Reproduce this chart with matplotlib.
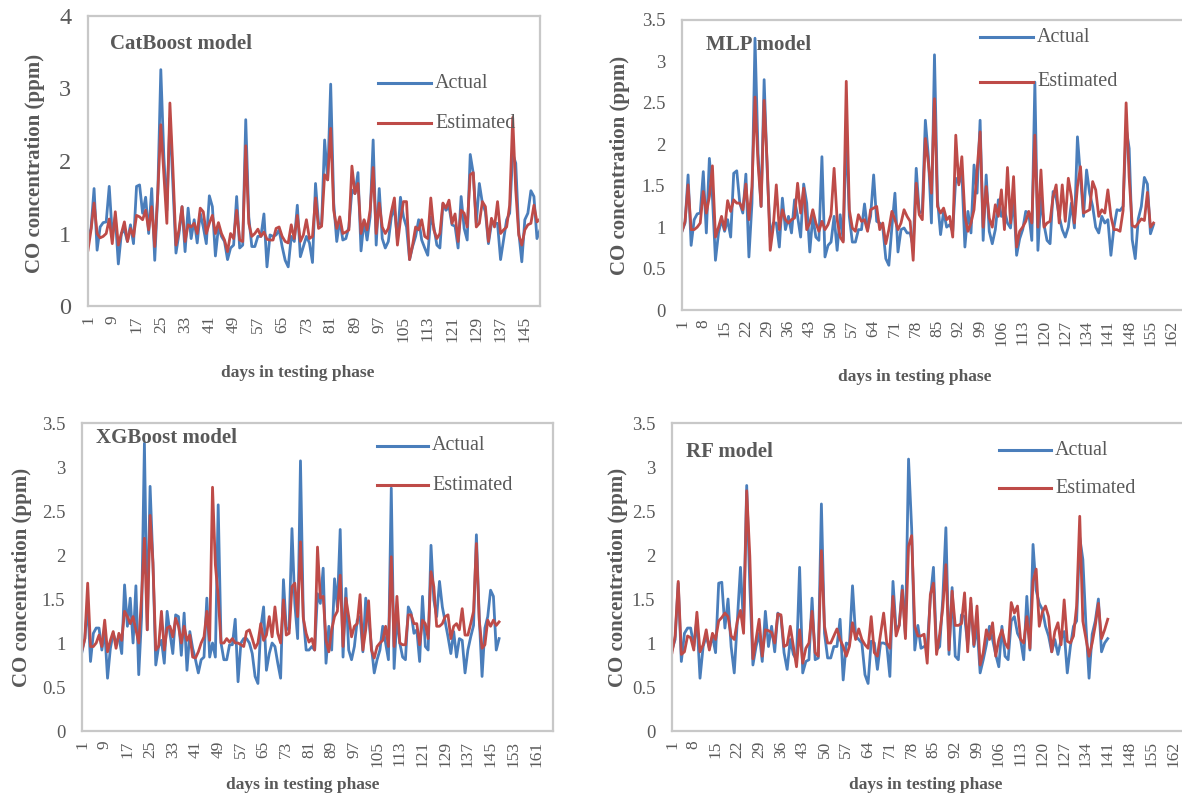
"""
Actual vs estimated CO concentration for four models (CatBoost, MLP, XGBoost, RF).
"""
import matplotlib
matplotlib.use('Agg')
import matplotlib.pyplot as plt
from matplotlib.lines import Line2D

plt.rcParams['font.family'] = ['Liberation Serif', 'DejaVu Serif']

#---------------------------------------------------------------------------------------------------
# Data
#---------------------------------------------------------------------------------------------------

cat_actual = [
    0.93, 1.07, 1.62, 0.77, 1.09, 1.15, 1.16, 1.65, 0.98, 1.23,
    0.58, 1.0, 1.05, 0.89, 1.12, 0.86, 1.65, 1.67, 1.28, 1.5,
    1.0, 1.62, 0.63, 1.55, 3.26, 2.06, 1.32, 2.59, 1.65, 0.73,
    1.0, 1.37, 0.75, 1.35, 0.93, 1.19, 0.87, 1.28, 1.09, 0.86,
    1.52, 1.37, 0.69, 1.09, 0.96, 0.89, 0.64, 0.8, 0.84, 1.51,
    0.8, 0.84, 2.57, 1.23, 0.82, 0.82, 0.96, 0.96, 1.27, 0.54,
    0.98, 0.96, 0.98, 1.05, 0.82, 0.63, 0.54, 0.96, 0.89, 1.39,
    0.68, 0.82, 0.96, 0.87, 0.6, 1.69, 1.14, 1.12, 2.29, 1.74,
    3.06, 1.42, 0.89, 1.19, 0.91, 0.93, 1.09, 1.6, 1.55, 1.84,
    0.76, 1.18, 0.91, 1.23, 2.29, 0.84, 1.62, 0.93, 0.8, 0.89,
    1.23, 1.35, 0.91, 1.5, 1.23, 1.09, 0.64, 0.82, 0.96, 1.19,
    0.91, 0.8, 0.7, 1.23, 1.09, 0.84, 0.8, 1.41, 1.32, 1.37,
    1.12, 1.1, 0.8, 1.51, 1.07, 0.91, 2.09, 1.83, 1.14, 1.69,
    1.42, 1.3, 0.86, 1.14, 1.14, 1.14, 0.64, 0.91, 1.19, 1.28,
    2.1, 1.97, 1.02, 0.61, 1.19, 1.28, 1.59, 1.51, 0.93, 1.05,
]
cat_estimated = [
    0.77, 1.05, 1.42, 1.0, 0.94, 0.96, 1.0, 1.2, 0.86, 1.3,
    0.84, 1.0, 1.16, 0.89, 1.07, 0.96, 1.25, 1.23, 1.19, 1.32,
    1.05, 1.37, 0.82, 1.55, 2.5, 1.83, 1.14, 2.8, 1.88, 0.84,
    1.05, 1.37, 0.89, 1.12, 1.09, 1.14, 1.0, 1.35, 1.3, 1.0,
    1.14, 1.25, 1.0, 1.15, 1.0, 0.91, 0.75, 1.0, 0.93, 1.32,
    0.91, 0.89, 2.21, 1.14, 0.96, 1.0, 1.06, 0.96, 1.02, 0.92,
    0.91, 0.91, 1.07, 1.09, 0.96, 0.89, 0.87, 1.12, 0.93, 1.25,
    0.89, 0.98, 1.19, 0.93, 0.96, 1.49, 1.07, 1.1, 1.81, 1.74,
    2.45, 1.32, 1.07, 1.23, 1.0, 1.02, 1.05, 1.93, 1.55, 1.69,
    1.0, 1.19, 1.05, 1.32, 1.91, 1.0, 1.42, 1.09, 1.0, 1.07,
    1.3, 1.49, 0.84, 1.19, 1.44, 1.44, 0.64, 0.84, 1.09, 1.05,
    1.19, 0.96, 0.93, 1.49, 1.05, 0.93, 1.0, 1.42, 1.35, 1.46,
    1.14, 1.27, 0.89, 1.32, 1.28, 1.09, 1.81, 1.84, 1.09, 1.14,
    1.44, 1.37, 0.89, 1.21, 1.09, 1.44, 1.0, 1.05, 1.09, 1.39,
    2.6, 1.6, 0.98, 0.84, 1.05, 1.12, 1.14, 1.39, 1.16, 1.2,
]

mlp_actual = [
    0.95, 1.05, 1.63, 0.78, 1.09, 1.16, 1.17, 1.67, 0.93, 1.83,
    1.37, 0.6, 0.93, 1.09, 0.95, 1.09, 0.88, 1.65, 1.68, 1.29,
    1.17, 1.64, 0.64, 1.29, 3.28, 1.89, 1.25, 2.78, 1.69, 0.88,
    1.05, 1.05, 0.76, 1.35, 0.97, 1.13, 0.93, 1.33, 1.13, 0.88,
    1.52, 1.29, 0.7, 1.13, 0.88, 0.84, 1.85, 0.64, 0.78, 0.82,
    1.13, 0.72, 1.15, 0.84, 2.17, 1.13, 0.82, 0.82, 0.97, 0.97,
    1.28, 0.97, 1.13, 1.63, 1.07, 1.05, 1.0, 0.62, 0.54, 1.0,
    1.41, 0.7, 0.97, 0.99, 0.93, 0.93, 0.76, 1.71, 1.17, 1.19,
    2.29, 1.85, 1.05, 3.08, 1.33, 0.91, 1.19, 1.0, 1.03, 0.95,
    1.59, 1.53, 1.65, 0.76, 1.19, 0.93, 1.75, 1.41, 2.29, 0.84,
    1.63, 0.95, 0.8, 0.97, 1.33, 1.13, 1.21, 1.05, 0.99, 1.35,
    0.66, 0.86, 0.97, 1.19, 1.17, 0.84, 2.75, 0.72, 1.35, 1.03,
    0.84, 0.8, 1.43, 1.35, 1.13, 0.97, 0.88, 1.0, 1.29, 0.99,
    2.09, 1.61, 1.13, 1.69, 1.41, 1.25, 1.0, 0.93, 1.13, 1.05,
    1.09, 0.66, 1.0, 1.21, 1.2, 1.25, 2.2, 1.95, 0.85, 0.62,
    1.1, 1.25, 1.6, 1.52, 0.92, 1.03,
]
mlp_estimated = [
    0.95, 1.07, 1.51, 0.97, 0.97, 1.0, 1.05, 1.43, 1.17, 1.37,
    1.74, 0.88, 1.0, 1.13, 0.97, 1.32, 1.19, 1.33, 1.29, 1.29,
    1.21, 1.52, 1.09, 1.49, 2.57, 1.77, 1.25, 2.53, 1.77, 0.72,
    1.0, 1.51, 0.97, 1.21, 1.09, 1.05, 1.09, 1.11, 1.53, 1.17,
    1.47, 0.97, 1.05, 1.21, 1.05, 0.95, 1.07, 0.97, 1.03, 1.15,
    1.71, 1.09, 0.88, 0.82, 2.76, 1.21, 0.99, 0.95, 1.15, 1.07,
    1.09, 0.95, 1.21, 1.23, 1.25, 0.97, 1.05, 0.8, 0.97, 1.19,
    1.09, 0.97, 1.05, 1.21, 1.13, 1.07, 0.6, 1.53, 1.15, 1.09,
    2.07, 1.77, 1.41, 2.55, 1.25, 1.17, 1.23, 1.09, 1.13, 0.88,
    2.11, 1.51, 1.85, 1.13, 0.95, 1.05, 1.21, 1.69, 2.15, 1.0,
    1.49, 1.11, 1.0, 1.27, 1.13, 1.45, 0.97, 1.72, 1.05, 1.61,
    0.76, 0.95, 1.0, 1.07, 1.19, 1.05, 2.11, 1.0, 1.69, 1.0,
    1.05, 1.07, 1.37, 1.51, 1.05, 1.51, 1.07, 1.59, 1.37, 1.05,
    1.49, 1.73, 1.17, 1.19, 1.21, 1.55, 1.45, 1.13, 1.21, 1.17,
    1.45, 1.13, 0.97, 0.97, 0.95, 1.2, 2.5, 1.6, 1.02, 1.0,
    1.05, 1.1, 1.08, 1.42, 1.0, 1.05,
]

xgb_actual = [
    0.9, 1.05, 1.45, 0.79, 1.11, 1.17, 1.17, 0.92, 1.15, 0.6,
    0.94, 1.11, 1.0, 1.07, 0.88, 1.66, 1.19, 1.51, 1.0, 1.65,
    0.64, 1.3, 3.27, 1.15, 2.78, 1.91, 0.75, 0.96, 1.03, 0.77,
    1.36, 1.11, 0.88, 1.32, 1.3, 0.86, 1.34, 0.69, 1.13, 0.94,
    0.81, 0.66, 0.81, 0.84, 1.51, 0.84, 1.0, 0.84, 2.57, 1.0,
    0.81, 0.81, 0.98, 0.98, 1.27, 0.56, 1.0, 1.05, 1.05, 1.0,
    0.88, 0.62, 0.54, 1.17, 1.41, 0.69, 0.88, 1.0, 0.96, 0.77,
    0.6, 1.72, 1.15, 1.17, 2.3, 1.45, 1.05, 3.07, 1.3, 0.92,
    0.92, 0.96, 0.92, 1.56, 1.45, 1.85, 0.77, 1.19, 0.92, 1.73,
    1.41, 2.29, 0.84, 1.62, 0.92, 0.81, 0.96, 1.26, 1.3, 0.9,
    1.51, 1.3, 0.96, 0.66, 0.81, 0.92, 1.19, 1.0, 0.81, 2.76,
    0.71, 1.3, 1.0, 0.84, 0.81, 1.41, 1.34, 1.11, 1.15, 0.79,
    1.53, 0.96, 0.92, 2.11, 1.49, 1.3, 1.7, 1.41, 1.24, 1.07,
    0.88, 1.13, 0.84, 1.05, 1.03, 0.66, 0.92, 1.07, 1.2, 2.23,
    1.3, 0.62, 1.17, 1.3, 1.6, 1.53, 0.92, 1.05,
]
xgb_estimated = [
    0.92, 1.05, 1.68, 0.96, 0.96, 1.0, 1.09, 0.96, 1.26, 0.9,
    1.03, 1.13, 0.94, 1.11, 1.03, 1.36, 1.3, 1.22, 1.3, 1.15,
    1.0, 1.53, 2.19, 1.15, 2.45, 1.91, 0.92, 0.96, 1.36, 0.92,
    1.17, 1.19, 1.07, 1.28, 1.19, 1.0, 1.19, 1.03, 1.09, 0.84,
    0.83, 0.9, 1.0, 1.07, 1.36, 1.03, 2.77, 1.89, 1.53, 1.0,
    1.0, 1.05, 1.01, 1.05, 1.0, 1.0, 0.98, 0.96, 1.13, 1.15,
    1.05, 0.94, 1.0, 1.22, 1.03, 1.09, 1.3, 1.07, 1.41, 1.11,
    1.0, 1.49, 1.09, 1.11, 1.64, 1.68, 1.3, 2.15, 1.28, 1.11,
    1.01, 1.05, 0.92, 2.09, 1.51, 1.53, 1.03, 0.9, 1.15, 1.3,
    1.36, 1.77, 0.96, 1.51, 1.3, 1.07, 1.19, 1.22, 1.55, 0.92,
    1.15, 1.48, 0.92, 0.83, 0.96, 1.0, 1.03, 1.19, 0.96, 1.98,
    0.96, 1.53, 1.0, 0.98, 0.98, 1.32, 1.32, 1.22, 1.22, 0.98,
    1.26, 1.22, 1.05, 1.81, 1.64, 1.19, 1.19, 1.22, 1.3, 1.32,
    1.05, 1.19, 1.22, 1.15, 1.39, 1.09, 1.09, 1.22, 1.36, 2.13,
    1.26, 0.94, 0.98, 1.26, 1.19, 1.26, 1.2, 1.24,
]

rf_actual = [
    0.92, 1.04, 1.68, 0.79, 1.11, 1.17, 1.17, 0.96, 1.27, 0.6,
    0.96, 1.08, 0.94, 1.08, 0.89, 1.68, 1.69, 1.17, 1.5, 0.96,
    0.66, 1.27, 1.86, 1.19, 2.79, 1.65, 0.75, 0.96, 1.11, 0.79,
    1.36, 0.96, 1.19, 0.9, 1.34, 1.3, 0.89, 0.7, 1.04, 0.87,
    0.81, 1.86, 0.66, 0.79, 0.81, 1.51, 0.81, 0.83, 2.58, 1.11,
    0.83, 0.83, 0.96, 0.96, 1.27, 0.58, 1.0, 0.98, 1.65, 1.08,
    1.04, 1.0, 0.64, 0.54, 1.02, 1.0, 0.7, 1.0, 1.0, 0.98,
    0.62, 1.7, 1.15, 1.2, 1.65, 1.08, 3.09, 2.3, 0.92, 1.2,
    0.94, 0.96, 0.96, 1.5, 1.86, 0.92, 0.96, 1.5, 2.31, 0.87,
    1.63, 0.85, 0.81, 1.32, 1.3, 0.98, 1.45, 0.96, 1.2, 0.66,
    0.81, 0.98, 1.19, 1.04, 0.87, 0.73, 1.19, 0.85, 0.81, 1.25,
    1.3, 1.11, 1.04, 0.81, 1.53, 0.92, 2.12, 1.6, 1.45, 1.38,
    1.19, 1.08, 0.9, 1.04, 0.87, 1.04, 1.13, 0.66, 0.96, 1.19,
    1.25, 2.2, 1.95, 1.2, 0.6, 1.1, 1.25, 1.5, 0.9, 1.0,
    1.05,
]
rf_estimated = [
    0.89, 1.08, 1.7, 0.87, 0.9, 1.08, 1.06, 0.92, 1.35, 0.9,
    0.98, 1.15, 0.92, 1.11, 1.04, 1.25, 1.29, 1.34, 1.3, 1.08,
    1.04, 1.25, 1.37, 1.11, 2.73, 1.99, 0.82, 1.04, 1.27, 0.85,
    1.15, 1.14, 1.12, 1.0, 1.33, 1.32, 0.96, 0.98, 1.19, 0.96,
    0.73, 1.15, 0.77, 0.94, 1.0, 1.36, 0.89, 0.85, 2.05, 1.19,
    1.0, 1.0, 1.08, 1.16, 1.04, 0.96, 0.85, 0.96, 1.23, 1.04,
    1.16, 1.04, 0.98, 0.94, 1.3, 0.89, 0.85, 1.1, 1.34, 1.0,
    0.94, 1.53, 1.08, 1.2, 1.6, 1.05, 2.1, 2.22, 1.19, 1.08,
    1.08, 1.1, 0.77, 1.55, 1.68, 0.87, 1.1, 1.4, 1.89, 0.92,
    1.59, 1.2, 1.2, 1.22, 1.57, 0.9, 1.51, 0.98, 1.42, 0.75,
    0.89, 1.15, 1.04, 1.23, 0.85, 1.04, 1.15, 1.0, 0.94, 1.46,
    1.34, 1.42, 1.04, 1.0, 1.3, 0.94, 1.7, 1.84, 1.19, 1.35,
    1.42, 1.3, 0.9, 1.13, 1.23, 0.98, 1.49, 1.02, 1.0, 1.08,
    1.42, 2.44, 1.25, 1.05, 0.85, 1.0, 1.2, 1.45, 1.05, 1.15,
    1.27,
]

#---------------------------------------------------------------------------------------------------
# Style
#---------------------------------------------------------------------------------------------------

W, H = 1182, 801
BLUE = '#4a7ebb'
RED = '#be4b48'
GRAY = '#595959'
FRAME = '#c8c8c8'


# pixel box (left, top, right, bottom) -> figure fraction rect
def px_rect(l, t, r, b):
    return [l / W, 1 - b / H, (r - l) / W, (b - t) / H]


def fig_xy(x, y):
    return x / W, 1 - y / H


# Draw one panel
def draw_panel(fig, box, actual, estimated, xmax, xticks, ymax, ystep, ytick_size,
               title, title_xy, legend_x, legend_y, xlabel_xy, ylabel_xy):
    ax = fig.add_axes(px_rect(*box))
    days = list(range(1, len(actual) + 1))
    ax.plot(days, actual, color=BLUE, lw=2.0, solid_joinstyle='round')
    ax.plot(days, estimated, color=RED, lw=2.0, solid_joinstyle='round')

    ax.set_xlim(1, xmax)
    ax.set_ylim(0, ymax)
    ax.set_xticks(xticks)
    ax.set_xticklabels([str(t) for t in xticks], rotation=90, fontsize=12.5, color=GRAY)
    yt = [i * ystep for i in range(int(round(ymax / ystep)) + 1)]
    ax.set_yticks(yt)
    ax.set_yticklabels(['%g' % v for v in yt], fontsize=ytick_size, color=GRAY)
    ax.tick_params(axis='both', length=0)
    ax.tick_params(axis='x', pad=7)
    ax.tick_params(axis='y', pad=12)
    for s in ax.spines.values():
        s.set_color(FRAME)
        s.set_linewidth(1.6)

    # model name
    fig.text(*fig_xy(*title_xy), title, fontsize=15, fontweight='bold', color=GRAY,
             ha='left', va='center')

    # legend, drawn by hand to sit where the original one sits
    for (label, color), y in zip([('Actual', BLUE), ('Estimated', RED)], legend_y):
        x0, y0 = fig_xy(legend_x[0], y)
        x1, _ = fig_xy(legend_x[1], y)
        fig.add_artist(Line2D([x0, x1], [y0, y0], color=color, lw=2.2, transform=fig.transFigure))
        fig.text(x1 + 4 / W, y0, label, fontsize=14.5, color=GRAY, ha='left', va='center')

    fig.text(*fig_xy(*xlabel_xy), 'days in testing phase', fontsize=12.5, fontweight='bold',
             color=GRAY, ha='center', va='center')
    fig.text(*fig_xy(*ylabel_xy), 'CO concentration (ppm)', fontsize=15, fontweight='bold',
             color=GRAY, ha='center', va='center', rotation=90)
    return ax


def main():
    fig = plt.figure(figsize=(W / 100, H / 100), dpi=100)
    fig.patch.set_facecolor('white')

    # CatBoost (top left)
    draw_panel(fig, (88, 16, 540, 306), cat_actual, cat_estimated,
               150, list(range(1, 146, 8)), 4, 1, 17.5,
               'CatBoost model', (110, 44), (378, 431), (83, 123), (298, 373), (35, 163))

    # MLP (top right)
    draw_panel(fig, (682, 20, 1190, 310), mlp_actual, mlp_estimated,
               168, list(range(1, 163, 7)), 3.5, 0.5, 13.5,
               'MLP model', (706, 45), (980, 1033), (37, 82), (915, 377), (620, 165))

    # XGBoost (bottom left)
    draw_panel(fig, (82, 423, 553, 731), xgb_actual, xgb_estimated,
               167, list(range(1, 162, 8)), 3.5, 0.5, 13.5,
               'XGBoost model', (96, 438), (377, 428), (446, 485), (303, 785), (22, 577))

    # RF (bottom right)
    draw_panel(fig, (672, 423, 1198, 731), rf_actual, rf_estimated,
               170, list(range(1, 163, 7)), 3.5, 0.5, 13.5,
               'RF model', (686, 452), (999, 1051), (450, 488), (926, 785), (618, 577))

    fig.savefig('out.png', dpi=100, facecolor='white')


if __name__ == '__main__':
    main()
